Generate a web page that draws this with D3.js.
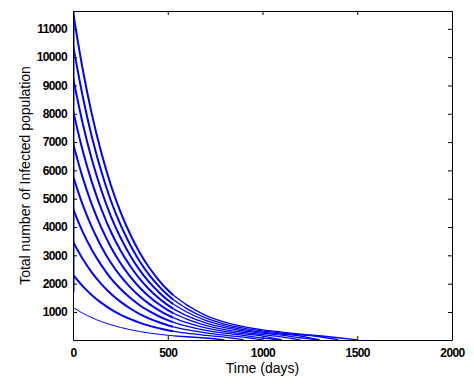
<!DOCTYPE html>
<html>
<head>
<meta charset="utf-8">
<script src="https://cdn.jsdelivr.net/npm/d3@7"></script>
<style>
  body { margin: 0; background: #fff; }
  text { font-family: "Liberation Sans", Arial, sans-serif; }
</style>
</head>
<body>
<div id="chart"></div>
<script>
// time grids (days)
const tEarly = [0, 50, 100, 150, 200, 250, 300, 350, 400, 450, 500, 530];
const tLate = [530, 600, 700, 800, 900, 1000, 1100, 1200, 1300, 1400, 1500];

// first phase, one curve per initial infected level
const early1 = [1160, 962, 797, 661, 548, 455, 377, 312, 259, 215, 177, 159];
const early2 = [2320, 1923, 1594, 1322, 1095, 909, 754, 624, 517, 429, 355, 318];
const early3 = [3480, 2885, 2391, 1984, 1643, 1364, 1131, 936, 776, 644, 532, 477];
const early4 = [4640, 3847, 3188, 2645, 2190, 1819, 1508, 1248, 1035, 858, 710, 636];
const early5 = [5800, 4808, 3985, 3306, 2738, 2274, 1885, 1560, 1293, 1073, 887, 795];
const early6 = [6960, 5770, 4782, 3967, 3285, 2728, 2262, 1872, 1552, 1288, 1065, 954];
const early7 = [8120, 6731, 5578, 4628, 3833, 3183, 2639, 2184, 1811, 1502, 1242, 1112];
const early8 = [9280, 7693, 6375, 5290, 4380, 3638, 3016, 2496, 2069, 1717, 1420, 1271];
const early9 = [10440, 8655, 7172, 5951, 4928, 4092, 3393, 2808, 2328, 1931, 1597, 1430];
const early10 = [11600, 9616, 7969, 6612, 5475, 4547, 3770, 3120, 2587, 2146, 1775, 1589];

// second phase (thin tails), null once the curve has died out
const late1 = [159, 125, 80, 15, null, null, null, null, null, null, null];
const late2 = [318, 250, 175, 110, 20, null, null, null, null, null, null];
const late3 = [477, 375, 265, 180, 110, 10, null, null, null, null, null];
const late4 = [636, 500, 350, 250, 170, 80, 10, null, null, null, null];
const late5 = [795, 625, 440, 315, 225, 150, 20, null, null, null, null];
const late6 = [954, 750, 530, 380, 280, 200, 120, 10, null, null, null];
const late7 = [1112, 870, 615, 445, 330, 250, 180, 90, 10, null, null];
const late8 = [1271, 1000, 700, 510, 380, 290, 220, 150, 20, null, null];
const late9 = [1430, 1120, 790, 575, 430, 330, 255, 190, 125, 20, null];
const late10 = [1589, 1250, 880, 640, 480, 370, 290, 220, 160, 90, 15];

// jump at t = 0
const startJump = [1700, 11600];

const xTicks = [0, 500, 1000, 1500, 2000];
const yTicks = [1000, 2000, 3000, 4000, 5000, 6000, 7000, 8000, 9000, 10000, 11000];

const earlySeries = [early1, early2, early3, early4, early5, early6, early7, early8, early9, early10];
const lateSeries = [late1, late2, late3, late4, late5, late6, late7, late8, late9, late10];

const W = 474, H = 386;
const margin = {top: 11, right: 22, bottom: 46, left: 73};
const width = W - margin.left - margin.right,
    height = H - margin.top - margin.bottom;

const svg = d3.select("#chart")
    .append("svg")
    .attr("width", W)
    .attr("height", H)
    .style("background", "#fff");

const g = svg.append("g")
    .attr("transform", `translate(${margin.left}, ${margin.top})`);

const x = d3.scaleLinear().domain([0, 2000]).range([0, width]);
const y = d3.scaleLinear().domain([10, 11630]).range([height, 0]);

g.append("defs").append("clipPath").attr("id", "clip")
    .append("rect").attr("width", width).attr("height", height);

const plot = g.append("g").attr("clip-path", "url(#clip)");

const line = d3.line()
    .defined(d => d[1] != null)
    .x(d => x(d[0]))
    .y(d => y(d[1]))
    .curve(d3.curveMonotoneX);

// tails first
lateSeries.forEach(function (s) {
    plot.append("path")
        .datum(tLate.map((t, i) => [t, s[i]]))
        .attr("d", line)
        .attr("fill", "none")
        .attr("stroke", "#0000ff")
        .attr("stroke-width", 1.3);
});

earlySeries.forEach(function (s, k) {
    plot.append("path")
        .datum(tEarly.map((t, i) => [t, s[i]]))
        .attr("d", line)
        .attr("fill", "none")
        .attr("stroke", "#0000ff")
        .attr("stroke-width", k === 0 ? 1 : 2);
});

plot.append("line")
    .attr("x1", x(0) + 0.5).attr("x2", x(0) + 0.5)
    .attr("y1", y(startJump[0])).attr("y2", y(startJump[1]))
    .attr("stroke", "#0000ff")
    .attr("stroke-width", 2);

// axes, MATLAB style box with inward ticks
const tickLen = 4;
const fmt = d3.format("d");
const axB = g.append("g").attr("transform", `translate(0, ${height})`)
    .call(d3.axisBottom(x).tickValues(xTicks).tickSizeInner(-tickLen).tickSizeOuter(0).tickPadding(8).tickFormat(fmt));
const axT = g.append("g")
    .call(d3.axisTop(x).tickValues(xTicks).tickSizeInner(-tickLen).tickSizeOuter(0).tickFormat(""));
const axL = g.append("g")
    .call(d3.axisLeft(y).tickValues(yTicks).tickSizeInner(-tickLen).tickSizeOuter(0).tickPadding(6).tickFormat(fmt));
const axR = g.append("g").attr("transform", `translate(${width}, 0)`)
    .call(d3.axisRight(y).tickValues(yTicks).tickSizeInner(-tickLen).tickSizeOuter(0).tickFormat(""));

[axB, axT, axL, axR].forEach(function (a) {
    a.select(".domain").attr("stroke", "#000").attr("stroke-width", 1);
    a.selectAll(".tick line").attr("stroke", "#000");
    a.selectAll("text")
        .attr("fill", "#000")
        .attr("font-size", "12px")
        .attr("font-weight", "bold")
        .style("letter-spacing", "-0.6px");
});

// axis titles
g.append("text")
    .attr("x", width / 2)
    .attr("y", height + 33)
    .attr("text-anchor", "middle")
    .attr("font-size", "14px")
    .attr("fill", "#000")
    .text("Time (days)");

g.append("text")
    .attr("transform", `translate(${-43}, ${height / 2}) rotate(-90)`)
    .attr("text-anchor", "middle")
    .attr("font-size", "14px")
    .attr("fill", "#000")
    .text("Total number of Infected population");
</script>
</body>
</html>
